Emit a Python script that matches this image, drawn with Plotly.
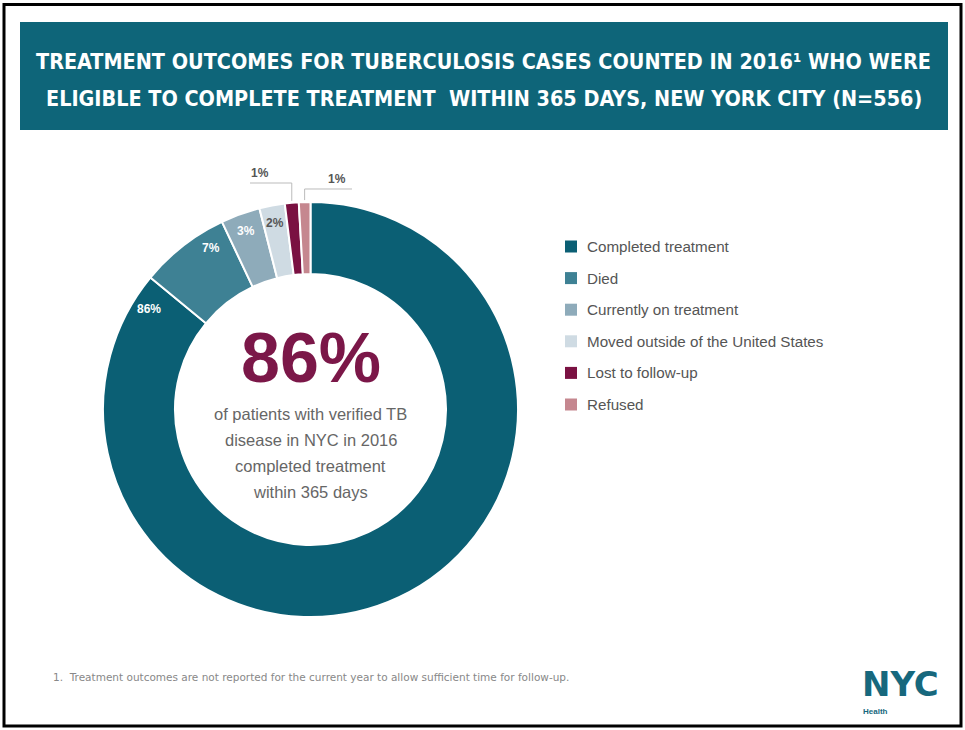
import math
import plotly.graph_objects as go

# ---------------- data ----------------
categories = ["Completed treatment", "Died", "Currently on treatment",
              "Moved outside of the United States", "Lost to follow-up", "Refused"]
counts = [478, 39, 17, 11, 6, 5]          # N = 556
colors = ["#0b5f74", "#3e8194", "#8eabba", "#cfdbe3", "#7a1142", "#c5878f"]
label_colors = ["#ffffff", "#ffffff", "#ffffff", "#555555", "#555555", "#555555"]

title_lines = ["TREATMENT OUTCOMES FOR TUBERCULOSIS CASES COUNTED IN 2016¹ WHO WERE",
               "ELIGIBLE TO COMPLETE TREATMENT  WITHIN 365 DAYS, NEW YORK CITY (N=556)"]
center_value = "86%"
center_lines = ["of patients with verified TB", "disease in NYC in 2016",
                "completed treatment", "within 365 days"]
footnote = "1.  Treatment outcomes are not reported for the current year to allow sufficient time for follow-up."

# ---------------- layout constants (pixels) ----------------
W, H = 965, 730
CX, CY, R_OUT, R_IN = 310.5, 409.5, 207.5, 135.5
TEAL = "#0e6579"


def px(x):
    return x / W


def py(y):
    return 1 - y / H


fig = go.Figure()
fig.add_trace(go.Pie(
    labels=categories, values=counts, sort=False, direction="clockwise", rotation=0,
    hole=R_IN / R_OUT, textinfo="none", hoverinfo="label+percent",
    marker=dict(colors=colors, line=dict(color="white", width=2)),
    domain=dict(x=[px(CX - R_OUT), px(CX + R_OUT)], y=[py(CY + R_OUT), py(CY - R_OUT)]),
    showlegend=False,
))

annotations = []
shapes = []

# border and title bar
shapes.append(dict(type="rect", xref="paper", yref="paper", x0=px(4), x1=px(961), y0=py(726), y1=py(4.5),
                   line=dict(color="black", width=3), fillcolor="rgba(0,0,0,0)", layer="above"))
shapes.append(dict(type="rect", xref="paper", yref="paper", x0=px(20), x1=px(948), y0=py(130), y1=py(22),
                   line=dict(width=0), fillcolor=TEAL, layer="below"))
title_font = dict(family="Liberation Sans Narrow, DejaVu Sans Condensed, Arial Narrow, sans-serif",
                  size=21.4, color="white")
for i, t in enumerate(title_lines):
    annotations.append(dict(text="<b>%s</b>" % t, x=px(484), y=py(61 + 37 * i), xref="paper", yref="paper",
                            showarrow=False, xanchor="center", yanchor="middle", font=title_font))

# slice labels
total = sum(counts)
pcts = ["%d%%" % round(100 * c / total) for c in counts]
label_frac = [0.975, 0.75, 0.5, 0.5]   # position of the label inside its slice
cum = 0.0
for i, c in enumerate(counts):
    a0 = cum / total * 360
    a1 = (cum + c) / total * 360
    cum += c
    if i < len(label_frac):
        ang = math.radians(a0 + (a1 - a0) * label_frac[i])
        r = 190
        x = CX + r * math.sin(ang)
        y = CY - r * math.cos(ang)
        annotations.append(dict(text="<b>%s</b>" % pcts[i], x=px(x), y=py(y), xref="paper", yref="paper",
                                showarrow=False, xanchor="center", yanchor="middle",
                                font=dict(family="Liberation Sans, Arial, sans-serif", size=12,
                                          color=label_colors[i])))
    else:
        ang = math.radians((a0 + a1) / 2)
        sx = CX + R_OUT * math.sin(ang)
        sy = CY - R_OUT * math.cos(ang)
        if i == 4:
            ey, ex, lx, ly = 183, 250, 260, 173
        else:
            ey, ex, lx, ly = 189, 352, 337, 179
        shapes.append(dict(type="path", xref="paper", yref="paper",
                           path="M %f %f L %f %f L %f %f" % (px(sx), py(sy - 2), px(sx), py(ey), px(ex), py(ey)),
                           line=dict(color="#bbbbbb", width=1)))
        annotations.append(dict(text="<b>%s</b>" % pcts[i], x=px(lx), y=py(ly), xref="paper", yref="paper",
                                showarrow=False, xanchor="center", yanchor="middle",
                                font=dict(family="Liberation Sans, Arial, sans-serif", size=12,
                                          color="#555555")))

# center text
annotations.append(dict(text="<b>%s</b>" % center_value, x=px(CX), y=py(358), xref="paper", yref="paper",
                        showarrow=False, xanchor="center", yanchor="middle",
                        font=dict(family="Liberation Sans, Arial, sans-serif", size=70, color="#7b1748")))
for i, t in enumerate(center_lines):
    annotations.append(dict(text=t, x=px(CX), y=py(414 + 26 * i), xref="paper", yref="paper",
                            showarrow=False, xanchor="center", yanchor="middle",
                            font=dict(family="Liberation Sans, Arial, sans-serif", size=16.5, color="#666666")))

# legend (manual)
for i, (cat, col) in enumerate(zip(categories, colors)):
    yc = 246.5 + 31.6 * i
    shapes.append(dict(type="rect", xref="paper", yref="paper", x0=px(565), x1=px(577),
                       y0=py(yc + 6), y1=py(yc - 6), fillcolor=col, line=dict(width=0)))
    annotations.append(dict(text=cat, x=px(585), y=py(yc), xref="paper", yref="paper",
                            showarrow=False, xanchor="left", yanchor="middle",
                            font=dict(family="Liberation Sans, Arial, sans-serif", size=15.2, color="#555555")))

# footnote
annotations.append(dict(text=footnote, x=px(51), y=py(677), xref="paper", yref="paper",
                        showarrow=False, xanchor="left", yanchor="middle",
                        font=dict(family="DejaVu Sans, sans-serif", size=10.5, color="#888888")))

# NYC Health logo
annotations.append(dict(text="<b>NYC</b>", x=px(900), y=py(705.5), xref="paper", yref="paper",
                        showarrow=False, xanchor="center", yanchor="bottom",
                        font=dict(family="DejaVu Sans, sans-serif", size=34, color="#17687d")))
annotations.append(dict(text="<b>Health</b>", x=px(861), y=py(711.5), xref="paper", yref="paper",
                        showarrow=False, xanchor="left", yanchor="middle",
                        font=dict(family="Liberation Sans, Arial, sans-serif", size=8, color="#17687d")))

fig.update_layout(
    width=W, height=H, margin=dict(l=0, r=0, t=0, b=0),
    paper_bgcolor="white", plot_bgcolor="white",
    shapes=shapes, annotations=annotations, showlegend=False,
)

fig.write_html("out.html", config={"displayModeBar": False},
               post_script="document.body.style.margin='0';document.documentElement.style.overflow='hidden';")
